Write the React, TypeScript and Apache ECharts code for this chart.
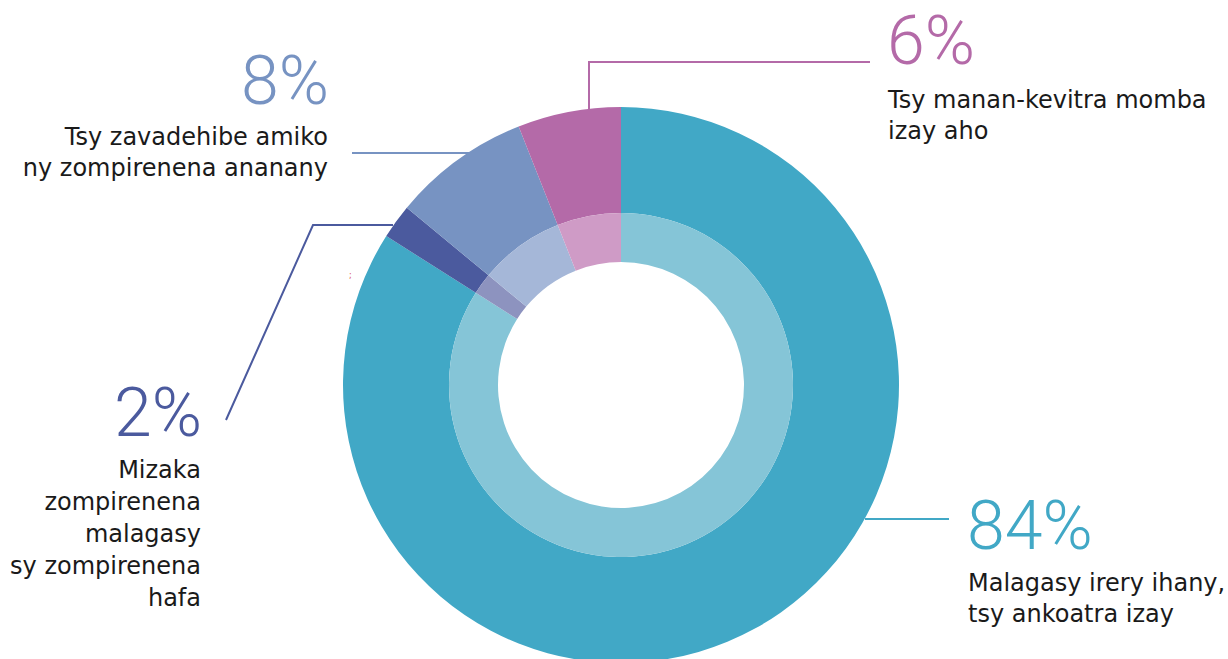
import React, { useEffect, useRef } from "react";
import * as echarts from "echarts";

const categories = [
  "Malagasy irery ihany,\ntsy ankoatra izay",
  "Mizaka\nzompirenena\nmalagasy\nsy zompirenena\nhafa",
  "Tsy zavadehibe amiko\nny zompirenena ananany",
  "Tsy manan-kevitra momba\nizay aho",
];
const values = [84, 2, 8, 6];
const colors = ["#41A8C6", "#4B5A9E", "#7793C2", "#B46AA8"];
const lightColors = ["#85C5D7", "#8D93BF", "#A5B7D8", "#CF9BC6"];

const FONT = "'DejaVu Sans', sans-serif";
const PCT_FONT = "Roboto, sans-serif";

export default function App() {
  const ref = useRef<HTMLDivElement>(null);
  useEffect(() => {
    if (!ref.current) return;
    const chart = echarts.init(ref.current, undefined, { renderer: "svg" });
    const cx = 621;
    const cy = 385;

    const pct = (i: number) => `${values[i]}%`;
    const labelSpecs = [
      { i: 0, x: 967, y: 492, ty: 567, align: "left", lh: 31 },
      { i: 1, x: 202, y: 379, ty: 454, align: "right", lh: 32 },
      { i: 2, x: 329, y: 47, ty: 121, align: "right", lh: 31 },
      { i: 3, x: 887, y: 7, ty: 84, align: "left", lh: 31 },
    ];
    const texts: any[] = [];
    labelSpecs.forEach((s) => {
      texts.push({
        type: "text",
        x: s.x,
        y: s.y,
        style: {
          text: pct(s.i),
          fill: colors[s.i],
          font: `300 68px ${PCT_FONT}`,
          textAlign: s.align,
          textVerticalAlign: "top",
        },
      });
      texts.push({
        type: "text",
        x: s.x + (s.align === "left" ? 1 : -1),
        y: s.ty,
        style: {
          text: categories[s.i],
          fill: "#1a1a1a",
          font: `400 24px ${FONT}`,
          lineHeight: s.lh,
          textAlign: s.align,
          textVerticalAlign: "top",
        },
      });
    });

    const lines: any[] = [
      { type: "polyline", shape: { points: [[865, 519], [949, 519]] }, style: { stroke: colors[0], lineWidth: 2, fill: null } },
      { type: "polyline", shape: { points: [[226, 420], [313, 225], [393, 225]] }, style: { stroke: colors[1], lineWidth: 2, fill: null } },
      { type: "polyline", shape: { points: [[352, 153], [470, 153]] }, style: { stroke: colors[2], lineWidth: 2, fill: null } },
      { type: "polyline", shape: { points: [[589, 109], [589, 62], [870, 62]] }, style: { stroke: colors[3], lineWidth: 2, fill: null } },
    ];

    chart.setOption({
      animation: false,
      backgroundColor: "#ffffff",
      series: [
        {
          type: "pie",
          center: [cx, cy],
          radius: [172, 278],
          startAngle: 90,
          clockwise: true,
          label: { show: false },
          labelLine: { show: false },
          silent: true,
          data: values.map((v, i) => ({ value: v, name: categories[i], itemStyle: { color: colors[i] } })),
        },
        {
          type: "pie",
          center: [cx, cy],
          radius: [123, 172],
          startAngle: 90,
          clockwise: true,
          label: { show: false },
          labelLine: { show: false },
          silent: true,
          data: values.map((v, i) => ({ value: v, name: categories[i] + " ", itemStyle: { color: lightColors[i] } })),
        },
      ],
      graphic: [
        ...lines,
        ...texts,
        { type: "text", x: 349, y: 271, style: { text: ";", fill: "#d9534f", font: `8px ${FONT}` } },
      ],
    });
    return () => chart.dispose();
  }, []);
  return <div ref={ref} style={{ position: "absolute", left: 0, top: 0, width: 1228, height: 659 }} />;
}
